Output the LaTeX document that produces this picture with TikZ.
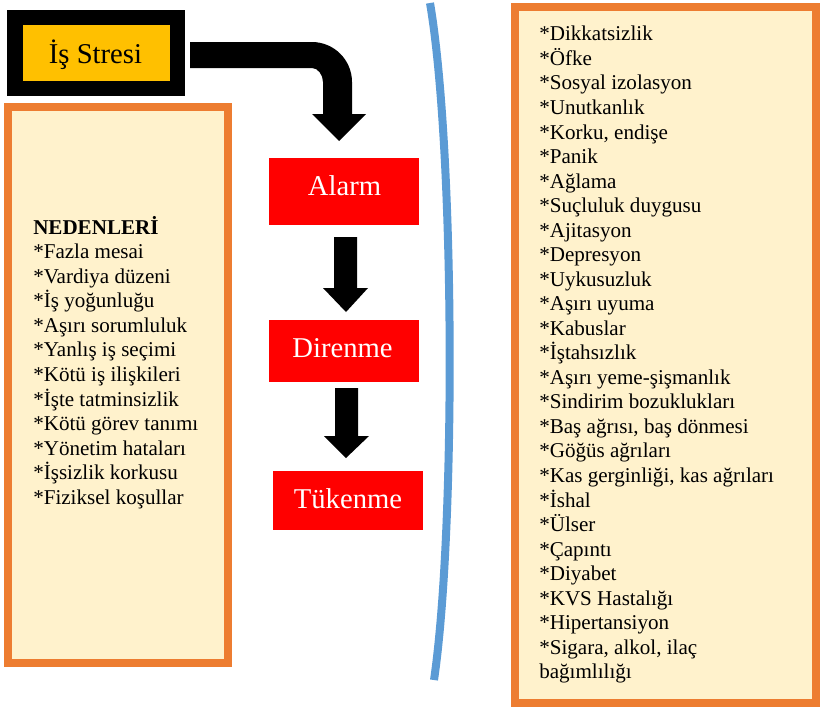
\documentclass[tikz,border=0pt]{standalone}
\usepackage{fontspec}
\setmainfont{Liberation Serif}
\definecolor{orng}{HTML}{ED7D31}
\definecolor{cream}{HTML}{FFF2CC}
\definecolor{blu}{HTML}{5B9BD5}
\definecolor{gold}{HTML}{FFC000}
\definecolor{redd}{HTML}{FF0000}
\tikzset{
  listbox/.style={draw=orng, fill=cream, line width=6pt},
  listtext/.style={anchor=north west, inner sep=0pt, align=left, font=\fontsize{15.8}{18.4}\selectfont},
  stagebox/.style={anchor=base, text=white, font=\fontsize{21.5}{24}\selectfont, inner sep=0pt},
  blockarrow/.style={fill=black, draw=none}
}
\begin{document}
\begin{tikzpicture}[x=0.75pt,y=-0.75pt]
\useasboundingbox (0,0) rectangle (820,707);
% Is Stresi
\fill[black] (7,10) rectangle (185,96);
\fill[gold] (23,25) rectangle (170,81);
\node[anchor=base, font=\fontsize{21.5}{24}\selectfont, inner sep=0pt] (stres) at (95.5,63) {İş Stresi};
% left box
\draw[listbox] (8,107) rectangle (228,663);
\node[listtext] (nedenler) at (33,216) {\textbf{NEDENLERİ}\\
*Fazla mesai\\
*Vardiya düzeni\\
*İş yoğunluğu\\
*Aşırı sorumluluk\\
*Yanlış iş seçimi\\
*Kötü iş ilişkileri\\
*İşte tatminsizlik\\
*Kötü görev tanımı\\
*Yönetim hataları\\
*İşsizlik korkusu\\
*Fiziksel koşullar};
% right box
\draw[listbox] (515,7) rectangle (816,703);
\node[listtext] (belirti) at (539,26) {*Dikkatsizlik\\
*Öfke\\
*Sosyal izolasyon\\
*Unutkanlık\\
*Korku, endişe\\
*Panik\\
*Ağlama\\
*Suçluluk duygusu\\
*Ajitasyon\\
*Depresyon\\
*Uykusuzluk\\
*Aşırı uyuma\\
*Kabuslar\\
*İştahsızlık\\
*Aşırı yeme-şişmanlık\\
*Sindirim bozuklukları\\
*Baş ağrısı, baş dönmesi\\
*Göğüs ağrıları\\
*Kas gerginliği, kas ağrıları\\
*İshal\\
*Ülser\\
*Çapıntı\\
*Diyabet\\
*KVS Hastalığı\\
*Hipertansiyon\\
*Sigara, alkol, ilaç\\
bağımlılığı};
% stages
\fill[redd] (269,158) rectangle (419,225);
\node[stagebox] (alarm) at (344.5,195) {Alarm};
\fill[redd] (269,320) rectangle (419,382);
\node[stagebox] (direnme) at (342.5,357) {Direnme};
\fill[redd] (273,471) rectangle (423,530);
\node[stagebox] (tukenme) at (348,508) {Tükenme};
% curved block arrow
\path[blockarrow] (190,42) -- (312,42) .. controls (334,42) and (352,60) .. (352,82)
  -- (352,114) -- (366,114) -- (339,141) -- (312,114) -- (323,114) -- (323,82)
  .. controls (323,75) and (318,68) .. (312,68) -- (190,68) -- cycle;
% straight block arrows
\path[blockarrow] (334,237) -- (357,237) -- (357,288) -- (368,288) -- (346,312) -- (323,288) -- (334,288) -- cycle;
\path[blockarrow] (335,388) -- (358,388) -- (358,436) -- (369,436) -- (346,458) -- (324,436) -- (335,436) -- cycle;
% blue bracket
\draw[blu, line width=6pt] (430,3) .. controls (455,150) and (456,530) .. (434,680);
\end{tikzpicture}
\end{document}
